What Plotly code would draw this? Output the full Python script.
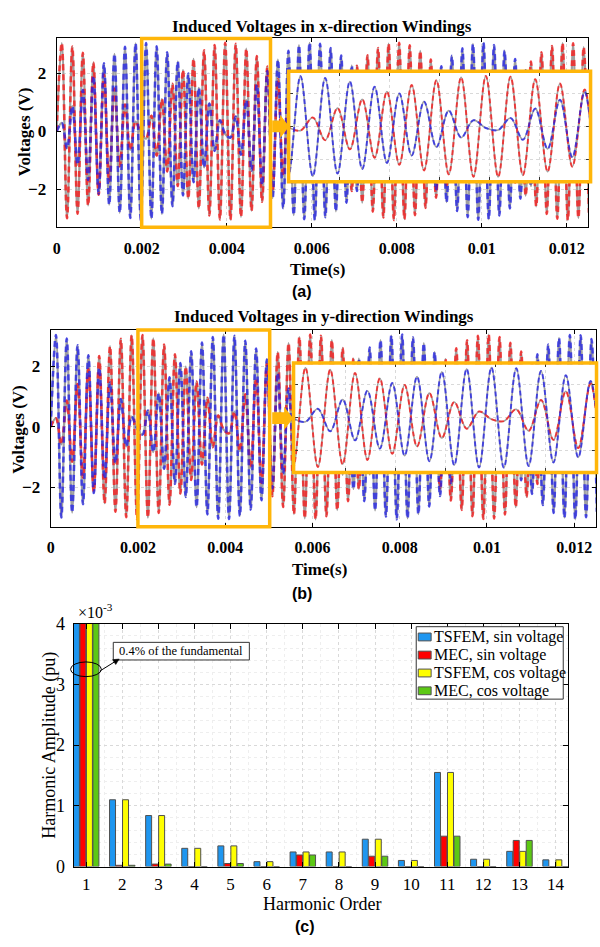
import plotly.graph_objects as go
import numpy as np

# ---------------- data ----------------
# time of the waveform extrema (microseconds) (a)/(b)
t_us = [0, 120, 244, 368, 492, 616, 740, 864, 988, 1112, 1236,
        1360, 1484, 1608, 1732, 1856, 1980, 2104, 2228, 2352, 2476,
        2600, 2724, 2848, 2972, 3096, 3220, 3344, 3468, 3592, 3716,
        3840, 3964, 4088, 4212, 4336, 4460, 4584, 4708, 4832, 4956,
        5080, 5204, 5328, 5452, 5576, 5700, 5824, 5948, 6072, 6196,
        6320, 6444, 6568, 6692, 6816, 6940, 7064, 7188, 7312, 7436,
        7560, 7684, 7808, 7932, 8056, 8180, 8304, 8428, 8552, 8676,
        8800, 8924, 9048, 9172, 9296, 9420, 9544, 9668, 9792, 9916,
        10040, 10164, 10288, 10412, 10536, 10660, 10784, 10908, 11032, 11156,
        11280, 11404, 11528, 11652, 11776, 11900, 12024, 12148, 12272, 12396,
        12520]

# panel (a): red-dashed waveform extrema (V)
red_wave_a = [0.0, 3.04, -2.99, 2.92, -2.83, 2.70, -2.55, 2.37, -2.18, 1.96, -1.72,
              1.47, -1.20, 0.92, -0.64, 0.34, -0.05, -0.25, 0.54, -0.83, 1.11,
              -1.38, 1.64, -1.88, 2.11, -2.31, 2.50, -2.65, 2.79, -2.89, 2.97,
              -3.03, 3.05, -3.04, 3.01, -2.94, 2.85, -2.73, 2.59, -2.42, 2.23,
              -2.02, 1.79, -1.54, 1.27, -1.00, 0.71, -0.42, 0.12, 0.17, -0.47,
              0.76, -1.04, 1.32, -1.58, 1.82, -2.05, 2.26, -2.45, 2.62, -2.76,
              2.87, -2.96, 3.02, -3.05, 3.05, -3.02, 2.96, -2.88, 2.77, -2.63,
              2.47, -2.28, 2.07, -1.85, 1.60, -1.34, 1.07, -0.79, 0.50, -0.20,
              -0.10, 0.39, -0.68, 0.97, -1.25, 1.51, -1.76, 2.00, -2.21, 2.40,
              -2.58, 2.72, -2.84, 2.94, -3.00, 3.04, -3.05, 3.03, -2.98, 2.90,
              -2.80]

# panel (a): blue-dashed waveform extrema (V)
blue_wave_a = [0.0, 0.29, -0.58, 0.87, -1.15, 1.42, -1.67, 1.91, -2.14, 2.34, -2.52,
               2.67, -2.80, 2.91, -2.98, 3.03, -3.05, 3.04, -3.00, 2.93, -2.84,
               2.72, -2.57, 2.40, -2.20, 1.99, -1.75, 1.50, -1.24, 0.96, -0.67,
               0.38, -0.09, -0.21, 0.51, -0.80, 1.08, -1.35, 1.61, -1.85, 2.08,
               -2.29, 2.47, -2.64, 2.77, -2.88, 2.97, -3.02, 3.05, -3.05, 3.01,
               -2.95, 2.87, -2.75, 2.61, -2.45, 2.26, -2.05, 1.82, -1.57, 1.31,
               -1.03, 0.75, -0.46, 0.16, 0.13, -0.43, 0.72, -1.01, 1.28, -1.54,
               1.79, -2.02, 2.24, -2.43, 2.60, -2.74, 2.86, -2.95, 3.01, -3.04,
               3.05, -3.02, 2.97, -2.89, 2.78, -2.65, 2.49, -2.31, 2.10, -1.88,
               1.63, -1.38, 1.10, -0.82, 0.53, -0.24, -0.06, 0.35, -0.65, 0.93,
               -1.21]

# panel (b) shows the same waveforms with the colours swapped
red_wave_b = blue_wave_a
blue_wave_b = red_wave_a
# TSFEM (grey solid) curves overlap the MEC ones
grey_wave_a1, grey_wave_a2 = red_wave_a, blue_wave_a
grey_wave_b1, grey_wave_b2 = red_wave_b, blue_wave_b

time_ticks = [0, 0.002, 0.004, 0.006, 0.008, 0.01, 0.012]
time_labels = ["0", "0.002", "0.004", "0.006", "0.008", "0.01", "0.012"]
volt_ticks = [-2, 0, 2]

# panel (c): harmonic amplitudes (x 1e-3 pu); fundamental = 1 pu = 1000e-3
harmonics = [1, 2, 3, 4, 5, 6, 7, 8, 9, 10, 11, 12, 13, 14]
tsfem_sin = [1000, 1.10, 0.84, 0.30, 0.34, 0.08, 0.24, 0.24, 0.45, 0.10, 1.55, 0.12, 0.25, 0.11]
mec_sin = [1000, 0.02, 0.04, 0.0, 0.05, 0.0, 0.19, 0.0, 0.17, 0.0, 0.50, 0.0, 0.43, 0.0]
tsfem_cos = [1000, 1.10, 0.84, 0.30, 0.34, 0.08, 0.24, 0.24, 0.45, 0.10, 1.55, 0.12, 0.25, 0.11]
mec_cos = [1000, 0.02, 0.04, 0.0, 0.05, 0.0, 0.19, 0.0, 0.17, 0.0, 0.50, 0.0, 0.43, 0.0]
series_names = ["TSFEM, sin voltage", "MEC, sin voltage", "TSFEM, cos voltage", "MEC, cos voltage"]
series_colors = ["#1E96F0", "#FF0000", "#FFFF00", "#5CC814"]

# ---------------- helpers ----------------
W, H = 600, 947
def px(x): return x / W
def py(y): return 1 - y / H

SERIF = "Liberation Serif, Times New Roman, serif"
SANS = "Liberation Sans, Arial, sans-serif"
ORANGE = "#FFB60A"
t_s = np.array(t_us) * 1e-6

fig = go.Figure()

def add_waves(xa, ya, red, blue, g1, g2, inset):
    gw = 1.6 if inset else 2.2
    dw = 2.0 if inset else 2.6
    dash = "5px,3px" if inset else "6px,4px"
    for g in (g1, g2):
        fig.add_trace(go.Scatter(x=t_s, y=g, mode="lines", line=dict(color="#a0a0a0", width=gw, shape="spline"),
                                 xaxis=xa, yaxis=ya, showlegend=False, hoverinfo="skip"))
    fig.add_trace(go.Scatter(x=t_s, y=red, mode="lines", opacity=0.72,
                             line=dict(color="#FF1010", width=dw, dash=dash, shape="spline"),
                             xaxis=xa, yaxis=ya, showlegend=False, hoverinfo="skip"))
    fig.add_trace(go.Scatter(x=t_s, y=blue, mode="lines", opacity=0.68,
                             line=dict(color="#1414F0", width=dw, dash=dash, shape="spline"),
                             xaxis=xa, yaxis=ya, showlegend=False, hoverinfo="skip"))

add_waves("x", "y", red_wave_a, blue_wave_a, grey_wave_a1, grey_wave_a2, False)
add_waves("x2", "y2", red_wave_a, blue_wave_a, grey_wave_a1, grey_wave_a2, True)
add_waves("x3", "y3", red_wave_b, blue_wave_b, grey_wave_b1, grey_wave_b2, False)
add_waves("x4", "y4", red_wave_b, blue_wave_b, grey_wave_b1, grey_wave_b2, True)

for vals, col in zip([tsfem_sin, mec_sin, tsfem_cos, mec_cos], series_colors):
    fig.add_trace(go.Bar(x=harmonics, y=vals, marker=dict(color=col, line=dict(color="#505050", width=1)),
                         xaxis="x5", yaxis="y5", showlegend=False, hoverinfo="skip"))

GRID = "#d9d9d9"
def main_x(dom, anchor):
    return dict(domain=dom, range=[0, 0.0125], anchor=anchor, tickvals=time_ticks, ticktext=time_labels,
                ticks="inside", ticklen=4, tickcolor="black", showline=True, linecolor="black", linewidth=1,
                mirror="ticks", showgrid=True, gridcolor=GRID, griddash="dot", zeroline=False,
                tickfont=dict(family=SERIF, size=16, color="black", weight="bold"), ticklabelstandoff=6)
def main_y(dom, anchor):
    return dict(domain=dom, range=[-3.3, 3.2], anchor=anchor, tickvals=volt_ticks,
                ticks="inside", ticklen=4, tickcolor="black", showline=True, linecolor="black", linewidth=1,
                mirror="ticks", showgrid=True, gridcolor=GRID, griddash="dot", zeroline=False,
                tickfont=dict(family=SERIF, size=17, color="black", weight="bold"), ticklabelstandoff=6)
def inset_x(dom, anchor):
    return dict(domain=dom, range=[0.002, 0.005], anchor=anchor, tickvals=[0.0025, 0.003, 0.0035, 0.004, 0.0045],
                ticks="inside", ticklen=3, tickcolor="#333", showline=True, linecolor="#333", linewidth=1,
                mirror="ticks", showgrid=True, gridcolor=GRID, griddash="dot", zeroline=False, showticklabels=False)
def inset_y(dom, anchor):
    return dict(domain=dom, range=[-3.25, 3.25], anchor=anchor, tickvals=volt_ticks,
                ticks="inside", ticklen=3, tickcolor="#333", showline=True, linecolor="#333", linewidth=1,
                mirror="ticks", showgrid=True, gridcolor=GRID, griddash="dot", zeroline=False, showticklabels=False)

fig.update_layout(
    width=W, height=H, margin=dict(l=0, r=0, t=0, b=0), paper_bgcolor="white", plot_bgcolor="white",
    xaxis=main_x([px(53), px(588)], "y"), yaxis=main_y([py(222), py(29)], "x"),
    xaxis2=inset_x([px(288), px(589)], "y2"), yaxis2=inset_y([py(174), py(64)], "x2"),
    xaxis3=main_x([px(47), px(596)], "y3"), yaxis3=main_y([py(528), py(327)], "x3"),
    xaxis4=inset_x([px(293), px(595)], "y4"), yaxis4=inset_y([py(471), py(362)], "x4"),
    xaxis5=dict(domain=[px(70), px(568)], range=[0.65, 14.35], anchor="y5", tickvals=harmonics,
                ticks="inside", ticklen=5, tickcolor="black", showline=True, linecolor="black", linewidth=1,
                mirror="ticks", showgrid=True, gridcolor=GRID, griddash="dot", zeroline=False,
                minor=dict(dtick=0.5, tick0=0.5, showgrid=True, gridcolor="#eeeeee", griddash="dot", ticks=""),
                tickfont=dict(family=SERIF, size=17, color="black"), ticklabelstandoff=2),
    yaxis5=dict(domain=[py(875), py(627)], range=[0, 4], anchor="x5", tickvals=[0, 1, 2, 3, 4],
                ticks="inside", ticklen=5, tickcolor="black", showline=True, linecolor="black", linewidth=1,
                mirror="ticks", showgrid=True, gridcolor=GRID, griddash="dot", zeroline=False,
                minor=dict(dtick=0.2, showgrid=True, gridcolor="#eeeeee", griddash="dot", ticks=""),
                tickfont=dict(family=SERIF, size=18, color="black"), ticklabelstandoff=4),
    barmode="group", bargap=0.28, bargroupgap=0.08,
)

def ppath(pts):
    return "M " + " L ".join(f"{px(a):.5f},{py(b):.5f}" for a, b in pts) + " Z"

shapes = []
# zoom boxes on the main plots
shapes.append(dict(type="rect", xref="x", yref="y domain", x0=0.002, x1=0.00503, y0=0, y1=1,
                   line=dict(color=ORANGE, width=3.5), layer="above"))
shapes.append(dict(type="rect", xref="x3", yref="y3 domain", x0=0.002, x1=0.00502, y0=0, y1=1,
                   line=dict(color=ORANGE, width=3.5), layer="above"))
# inset frames
shapes.append(dict(type="rect", xref="paper", yref="paper", x0=px(286.5), x1=px(590.5), y0=py(175.5), y1=py(62.5),
                   line=dict(color=ORANGE, width=3.5), layer="above"))
shapes.append(dict(type="rect", xref="paper", yref="paper", x0=px(291.5), x1=px(596.5), y0=py(472.5), y1=py(360.5),
                   line=dict(color=ORANGE, width=3.5), layer="above"))
# block arrows
def block_arrow(x0, x1, yc):
    xm = x1 - 9
    pts = [(x0, yc - 6), (xm, yc - 6), (xm, yc - 12), (x1, yc), (xm, yc + 12), (xm, yc + 6), (x0, yc + 6)]
    return dict(type="path", xref="paper", yref="paper", path=ppath(pts), fillcolor=ORANGE, line=dict(width=0), layer="above")
shapes.append(block_arrow(270, 287, 119))
shapes.append(block_arrow(270, 291, 417))
# bar-chart annotation: ellipse + text box + pointer arrow
shapes.append(dict(type="circle", xref="paper", yref="paper", x0=px(67), x1=px(98), y0=py(681), y1=py(666),
                   line=dict(color="black", width=1), layer="above"))
shapes.append(dict(type="rect", xref="paper", yref="paper", x0=px(110), x1=px(247), y0=py(664), y1=py(646),
                   line=dict(color="#333", width=1), fillcolor="white", layer="above"))
shapes.append(dict(type="line", xref="paper", yref="paper", x0=px(97), y0=py(675), x1=px(112), y1=py(665.5),
                   line=dict(color="black", width=1), layer="above"))
shapes.append(dict(type="path", xref="paper", yref="paper",
                   path=ppath([(116, 663), (112.5, 668.7), (109.3, 663.7)]),
                   fillcolor="black", line=dict(color="black", width=0.5), layer="above"))
# custom legend
shapes.append(dict(type="rect", xref="paper", yref="paper", x0=px(415), x1=px(563), y0=py(704), y1=py(630),
                   line=dict(color="#333", width=1), fillcolor="white", layer="above"))
legend_rows = [640.5, 659, 677.3, 695.5]
for yc, col in zip(legend_rows, series_colors):
    shapes.append(dict(type="rect", xref="paper", yref="paper", x0=px(417), x1=px(430), y0=py(yc + 4), y1=py(yc - 4),
                       line=dict(color="#505050", width=1), fillcolor=col, layer="above"))
fig.update_layout(shapes=shapes)

ann = []
def txt(x, y, s, size, family=SERIF, bold=False, angle=0, xanchor="center"):
    ann.append(dict(x=px(x), y=py(y), xref="paper", yref="paper", text=s, showarrow=False, textangle=angle,
                    xanchor=xanchor, yanchor="middle",
                    font=dict(family=family, size=size, color="black", weight="bold" if bold else "normal")))
# panel (a)
txt(320, 17, "Induced Voltages in x-direction Windings", 17, bold=True)
txt(21, 124, "Voltages (V)", 17, bold=True, angle=-90)
txt(316, 265, "Time(s)", 17, bold=True)
txt(300, 288, "(a)", 16, family=SANS, bold=True)
# panel (b)
txt(322, 313, "Induced Voltages in y-direction Windings", 17, bold=True)
txt(15, 428, "Voltages (V)", 17, bold=True, angle=-90)
txt(318, 572, "Time(s)", 17, bold=True)
txt(300, 596, "(b)", 16, family=SANS, bold=True)
# panel (c)
txt(45, 751, "Harmonic Amplitude (pu)", 18, angle=-90)
txt(320, 913, "Harmonic Order", 18)
txt(303, 936, "(c)", 16, family=SANS, bold=True)
txt(72, 614, "×10<sup>-3</sup>", 16, xanchor="left")
txt(178.5, 655, "0.4% of the fundamental", 12.5)
for yc, name in zip(legend_rows, series_names):
    txt(431, yc, name, 16, xanchor="left")
fig.update_layout(annotations=ann)

reset_css = (
    "var s=document.createElement('style');"
    "s.innerHTML='html,body{margin:0!important;padding:0!important;overflow:hidden;}';"
    "document.head.appendChild(s);"
)
fig.write_html("out.html", config={"displayModeBar": False, "responsive": False}, post_script=reset_css)
